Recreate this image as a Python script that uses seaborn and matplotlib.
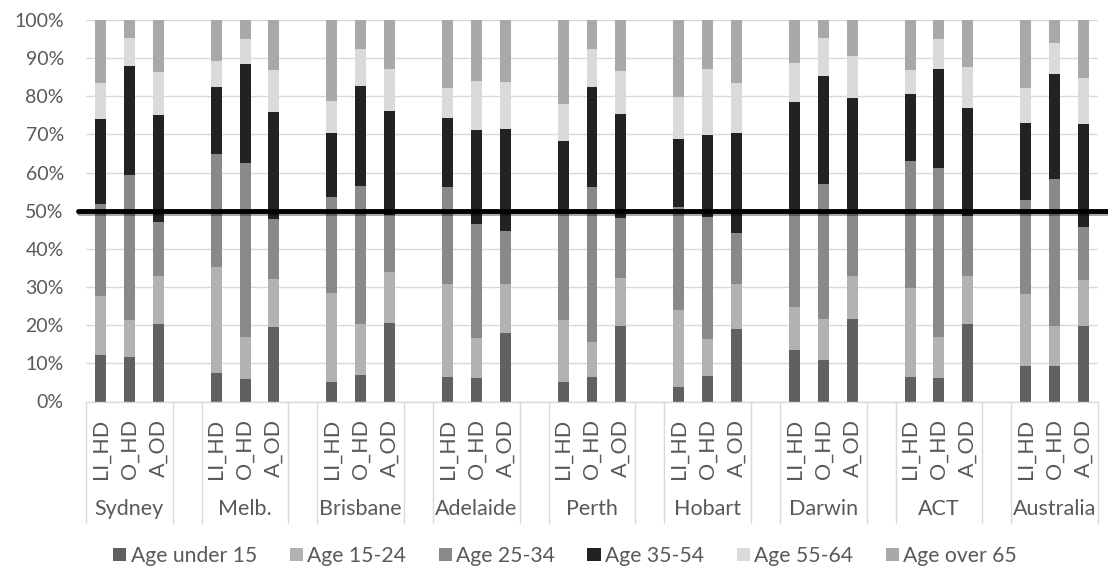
import numpy as np
import pandas as pd
import matplotlib
matplotlib.use("Agg")
import matplotlib.pyplot as plt
import matplotlib.patheffects as pe
from matplotlib.patches import Patch
from matplotlib.ticker import PercentFormatter
from matplotlib.transforms import blended_transform_factory
import seaborn as sns

# ---------------- data ----------------
cities = ["Sydney", "Melb.", "Brisbane", "Adelaide", "Perth", "Hobart", "Darwin", "ACT", "Australia"]
types = ["LI_HD", "O_HD", "A_OD"]
series_names = ["Age under 15", "Age 15-24", "Age 25-34", "Age 35-54", "Age 55-64", "Age over 65"]
colors = ["#606060", "#b2b2b2", "#898989", "#222222", "#dadada", "#a9a9a9"]

# percentages, ordered city by city: LI_HD, O_HD, A_OD
age_under15 = [12.1, 11.6, 20.2, 7.4, 5.8, 19.5, 5.0, 6.9, 20.5, 6.3, 6.1, 18.0, 5.0, 6.5, 19.7,
               3.8, 6.6, 18.9, 13.5, 11.0, 21.5, 6.3, 6.1, 20.4, 9.4, 9.4, 19.7]
age_15_24 = [15.5, 9.7, 12.6, 27.9, 11.1, 12.5, 23.4, 13.3, 13.4, 24.4, 10.5, 12.7, 16.3, 9.2, 12.8,
             20.3, 9.9, 12.0, 11.4, 10.7, 11.4, 23.4, 10.8, 12.4, 18.9, 10.4, 12.1]
age_25_34 = [24.1, 38.0, 14.3, 29.7, 45.7, 15.8, 25.1, 36.2, 14.9, 25.6, 29.9, 14.0, 28.7, 40.5, 15.6,
             26.9, 31.9, 13.3, 25.1, 35.3, 16.7, 33.4, 44.3, 15.8, 24.6, 38.5, 14.0]
age_35_54 = [22.3, 28.7, 28.0, 17.5, 25.8, 28.1, 17.0, 26.2, 27.3, 18.1, 24.6, 26.6, 18.3, 26.3, 27.2,
             17.7, 21.4, 26.1, 28.5, 28.3, 30.0, 17.5, 25.9, 28.4, 20.0, 27.6, 26.9]
age_55_64 = [9.6, 7.2, 11.3, 6.7, 6.6, 10.9, 8.2, 9.8, 11.0, 7.7, 12.9, 12.4, 9.8, 9.9, 11.3,
             11.2, 17.3, 13.2, 10.2, 10.0, 11.0, 6.3, 8.0, 10.8, 9.4, 8.1, 12.1]
age_over65 = [16.4, 4.8, 13.6, 10.8, 5.0, 13.2, 21.3, 7.6, 12.9, 17.9, 16.0, 16.3, 21.9, 7.6, 13.4,
              20.1, 12.9, 16.5, 11.3, 4.7, 9.4, 13.1, 4.9, 12.2, 17.7, 6.0, 15.2]

series_values = [age_under15, age_15_24, age_25_34, age_35_54, age_55_64, age_over65]

# ---------------- table ----------------
rows = []
for gi, city in enumerate(cities):
    for ti, t in enumerate(types):
        k = gi * 3 + ti
        row = {"city": city, "type": t, "pos": gi * 4 + ti}
        for name, vals in zip(series_names, series_values):
            row[name] = vals[k]
        rows.append(row)
df = pd.DataFrame(rows)
cum = df[series_names].cumsum(axis=1) / 100.0

# ---------------- plot ----------------
sns.set_style("white")
plt.rcParams["font.family"] = ["Lato", "DejaVu Sans"]
TXT = "#595959"

fig = plt.figure(figsize=(11.08, 5.72), dpi=100)
ax = fig.add_axes([86 / 1108, 1 - 401.5 / 572, 1012 / 1108, 381.5 / 572])

for name, color in reversed(list(zip(series_names, colors))):
    sns.barplot(x=df["pos"], y=cum[name], native_scale=True, orient="x", color=color,
                saturation=1, width=0.38, errorbar=None, linewidth=0, ax=ax, zorder=2)

n_slots = len(cities) * 4 - 1
ax.set_xlim(-0.5, n_slots - 0.5)
ax.set_ylim(0, 1)
ax.set_yticks(np.linspace(0, 1, 11))
ax.yaxis.set_major_formatter(PercentFormatter(1.0, decimals=0))
ax.grid(axis="y", color="#d9d9d9", lw=1)
ax.grid(axis="x", visible=False)
ax.set_axisbelow(True)
for s in ["left", "top", "right"]:
    ax.spines[s].set_visible(False)
ax.spines["bottom"].set_color("#d9d9d9")
ax.spines["bottom"].set_linewidth(1)
ax.tick_params(axis="y", length=0, pad=16, labelsize=14, labelcolor=TXT)
ax.set_xticks(df["pos"].to_numpy(), df["type"].tolist())
ax.tick_params(axis="x", length=0, pad=12.5, labelrotation=90, labelsize=15.5, labelcolor=TXT)
ax.set_xlabel("")
ax.set_ylabel("")

# multi-level category axis
trans = blended_transform_factory(ax.transData, ax.transAxes)
bounds = set()
for gi, city in enumerate(cities):
    left = gi * 4 - 0.5
    right = gi * 4 + 2.5
    bounds.update([left, right])
    ax.text(gi * 4 + 1, -0.297, city, transform=trans, ha="center", va="baseline",
            fontsize=15.5, color=TXT)
for b in sorted(bounds):
    ax.plot([b, b], [0, -0.3185], transform=trans, color="#d9d9d9", lw=1, clip_on=False)

# 50% reference line with shadow
ax.axhline(0.5, xmin=-8 / 1012, xmax=1.02, color="black", lw=3.5, clip_on=False, zorder=5,
           path_effects=[pe.SimpleLineShadow(offset=(1, -1.5), shadow_color="black", alpha=0.35),
                         pe.Normal()])

handles = [Patch(facecolor=c, edgecolor="none", label=n) for n, c in zip(series_names, colors)]
fig.legend(handles=handles, loc="center", bbox_to_anchor=(565 / 1108, 1 - 556 / 572), ncol=6,
           frameon=False, fontsize=15.2, handlelength=0.62, handleheight=0.62, handletextpad=0.2,
           columnspacing=1.55, labelcolor=TXT)

fig.savefig("out.png", dpi=100)
